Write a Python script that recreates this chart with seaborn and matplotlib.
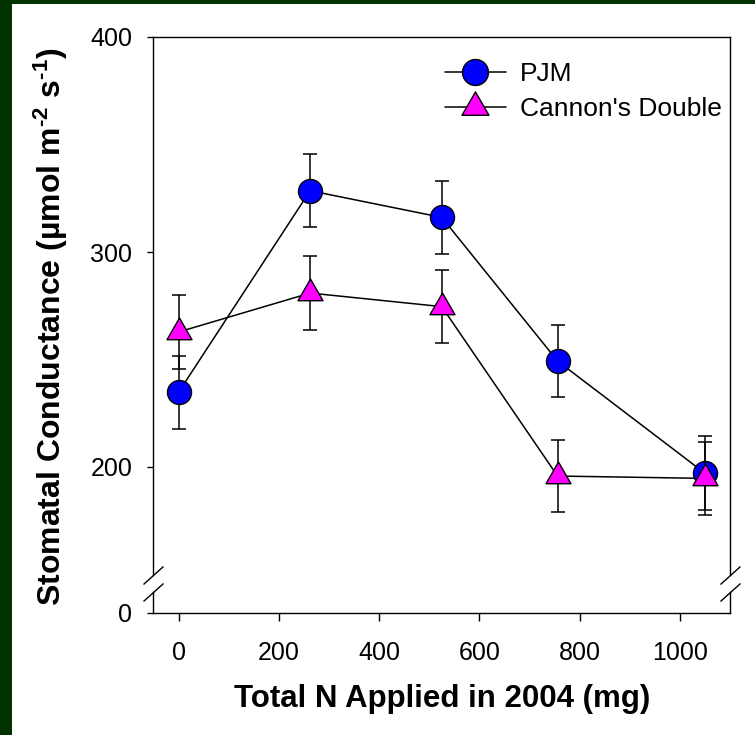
import numpy as np
import pandas as pd
import seaborn as sns
import matplotlib
matplotlib.use("Agg")
import matplotlib.pyplot as plt
from matplotlib.lines import Line2D
from matplotlib.patches import Rectangle
from matplotlib.path import Path

# Stomatal conductance vs. total nitrogen applied, two cultivars
nitrogen = [0, 262.5, 525, 756, 1050]
cultivars = ["PJM", "Cannon's Double"]
pjm_mean = [234.8, 328.5, 316.1, 249.3, 197.1]
pjm_se = [17.0, 16.9, 17.0, 16.9, 17.1]
cannon_mean = [262.8, 280.9, 274.6, 195.8, 194.7]
cannon_se = [17.2, 17.1, 17.0, 16.8, 17.1]

upper_ticks = [200, 300, 400]
lower_ticks = [0]
x_ticks = [0, 200, 400, 600, 800, 1000]

df = pd.DataFrame({
    "N": nitrogen * 2,
    "gs": pjm_mean + cannon_mean,
    "se": pjm_se + cannon_se,
    "Cultivar": [cultivars[0]] * len(nitrogen) + [cultivars[1]] * len(nitrogen),
})

sns.set_style("ticks")
plt.rcParams["font.family"] = ["Liberation Sans", "DejaVu Sans"]
plt.rcParams["mathtext.fontset"] = "custom"
plt.rcParams["mathtext.rm"] = "Liberation Sans"
plt.rcParams["mathtext.bf"] = "Liberation Sans:bold"
plt.rcParams["mathtext.default"] = "bf"
for key in ("text.color", "axes.labelcolor", "xtick.color", "ytick.color",
            "axes.edgecolor"):
    plt.rcParams[key] = "black"

W, H = 755, 735
fig = plt.figure(figsize=(W / 100, H / 100), dpi=100, facecolor="#003300")
fig.add_artist(Rectangle((12 / W, 0), 1, 1 - 4 / H, transform=fig.transFigure,
                         facecolor="white", edgecolor="none", zorder=-10))

# broken y axis: main panel (150-400) and a short strip holding the zero
ax = fig.add_axes([153 / W, 1 - 574.5 / H, 577 / W, 537.5 / H])
axb = fig.add_axes([153 / W, 1 - 613 / H, 577 / W, 21 / H], sharex=ax)
for a in (ax, axb):
    a.set_facecolor("none")
    for s in a.spines.values():
        s.set_linewidth(1.0)
        s.set_color("black")

tri = Path([(0, 1), (-0.866, -0.5), (0.866, -0.5), (0, 1)],
           [Path.MOVETO, Path.LINETO, Path.LINETO, Path.CLOSEPOLY])
styles = {
    "PJM": dict(marker="o", size=17.3, color="#0000FF"),
    "Cannon's Double": dict(marker=tri, size=20.8, color="#FF00FF"),
}

sns.lineplot(data=df, x="N", y="gs", units="Cultivar", estimator=None,
             color="black", linewidth=1.1, sort=False, ax=ax, zorder=1)

z = 2
for cv in cultivars:
    sub = df[df["Cultivar"] == cv]
    st = styles[cv]
    ax.errorbar(sub["N"], sub["gs"], yerr=sub["se"], fmt="none", ecolor="black",
                elinewidth=1.1, capsize=4.8, capthick=1.1, zorder=z)
    sns.scatterplot(data=sub, x="N", y="gs", marker=st["marker"], s=st["size"] ** 2,
                    color=st["color"], edgecolor="black", linewidth=1.0,
                    ax=ax, zorder=z + 1, legend=False)
    z += 2

ax.set_xlim(-51, 1100)
ax.set_ylim(150, 400)
axb.set_ylim(0, 10)

ax.set_yticks(upper_ticks)
ax.set_yticklabels([str(t) for t in upper_ticks])
axb.set_yticks(lower_ticks)
axb.set_yticklabels([str(t) for t in lower_ticks])
axb.set_xticks(x_ticks)
axb.set_xticklabels([str(t) for t in x_ticks])

ax.spines["bottom"].set_visible(False)
axb.spines["top"].set_visible(False)
ax.tick_params(axis="x", bottom=False, labelbottom=False)
ax.tick_params(axis="y", direction="out", length=4.5, width=1, pad=10.5,
               labelsize=18, colors="black")
axb.tick_params(axis="y", direction="out", length=4.5, width=1, pad=10.5,
                labelsize=18, colors="black")
axb.tick_params(axis="x", direction="out", length=6, width=1, pad=14,
                labelsize=18, colors="black")

# slanted break marks on both vertical spines
slash = [(-1, -0.9), (1, 0.9)]
mk = dict(marker=slash, markersize=14.4, linestyle="none", color="black",
          mec="black", mew=1.0, clip_on=False)
ax.plot([0, 1], [0, 0], transform=ax.transAxes, **mk)
axb.plot([0, 1], [1, 1], transform=axb.transAxes, **mk)

ax.set_xlabel("")
ax.set_ylabel("Stomatal Conductance (µmol m$^{\u2010 2}$ s$^{\u2010 1}$)",
              fontsize=23, fontweight="bold", va="center", color="black")
ax.yaxis.set_label_coords((51 - 153) / 577, (574.5 - 326.5) / 537.5)
axb.set_ylabel("")
axb.set_xlabel("Total N Applied in 2004 (mg)", fontsize=22.5,
               fontweight="bold", va="center", color="black")
axb.xaxis.set_label_coords((442 - 153) / 577, (613 - 699) / 21)

handles = [
    Line2D([], [], color="black", lw=1.1, marker=styles[cv]["marker"],
           markersize=styles[cv]["size"] * 1.08, markerfacecolor=styles[cv]["color"],
           markeredgecolor="black", markeredgewidth=1.0)
    for cv in cultivars
]
fig.legend(handles, cultivars, loc="upper left",
           bbox_to_anchor=(445 / W, 1 - 62 / H), frameon=False, fontsize=19,
           borderpad=0, borderaxespad=0, handlelength=2.3, handletextpad=0.55,
           labelspacing=0.42, labelcolor="black")

fig.savefig("out.png", dpi=100, facecolor=fig.get_facecolor())
